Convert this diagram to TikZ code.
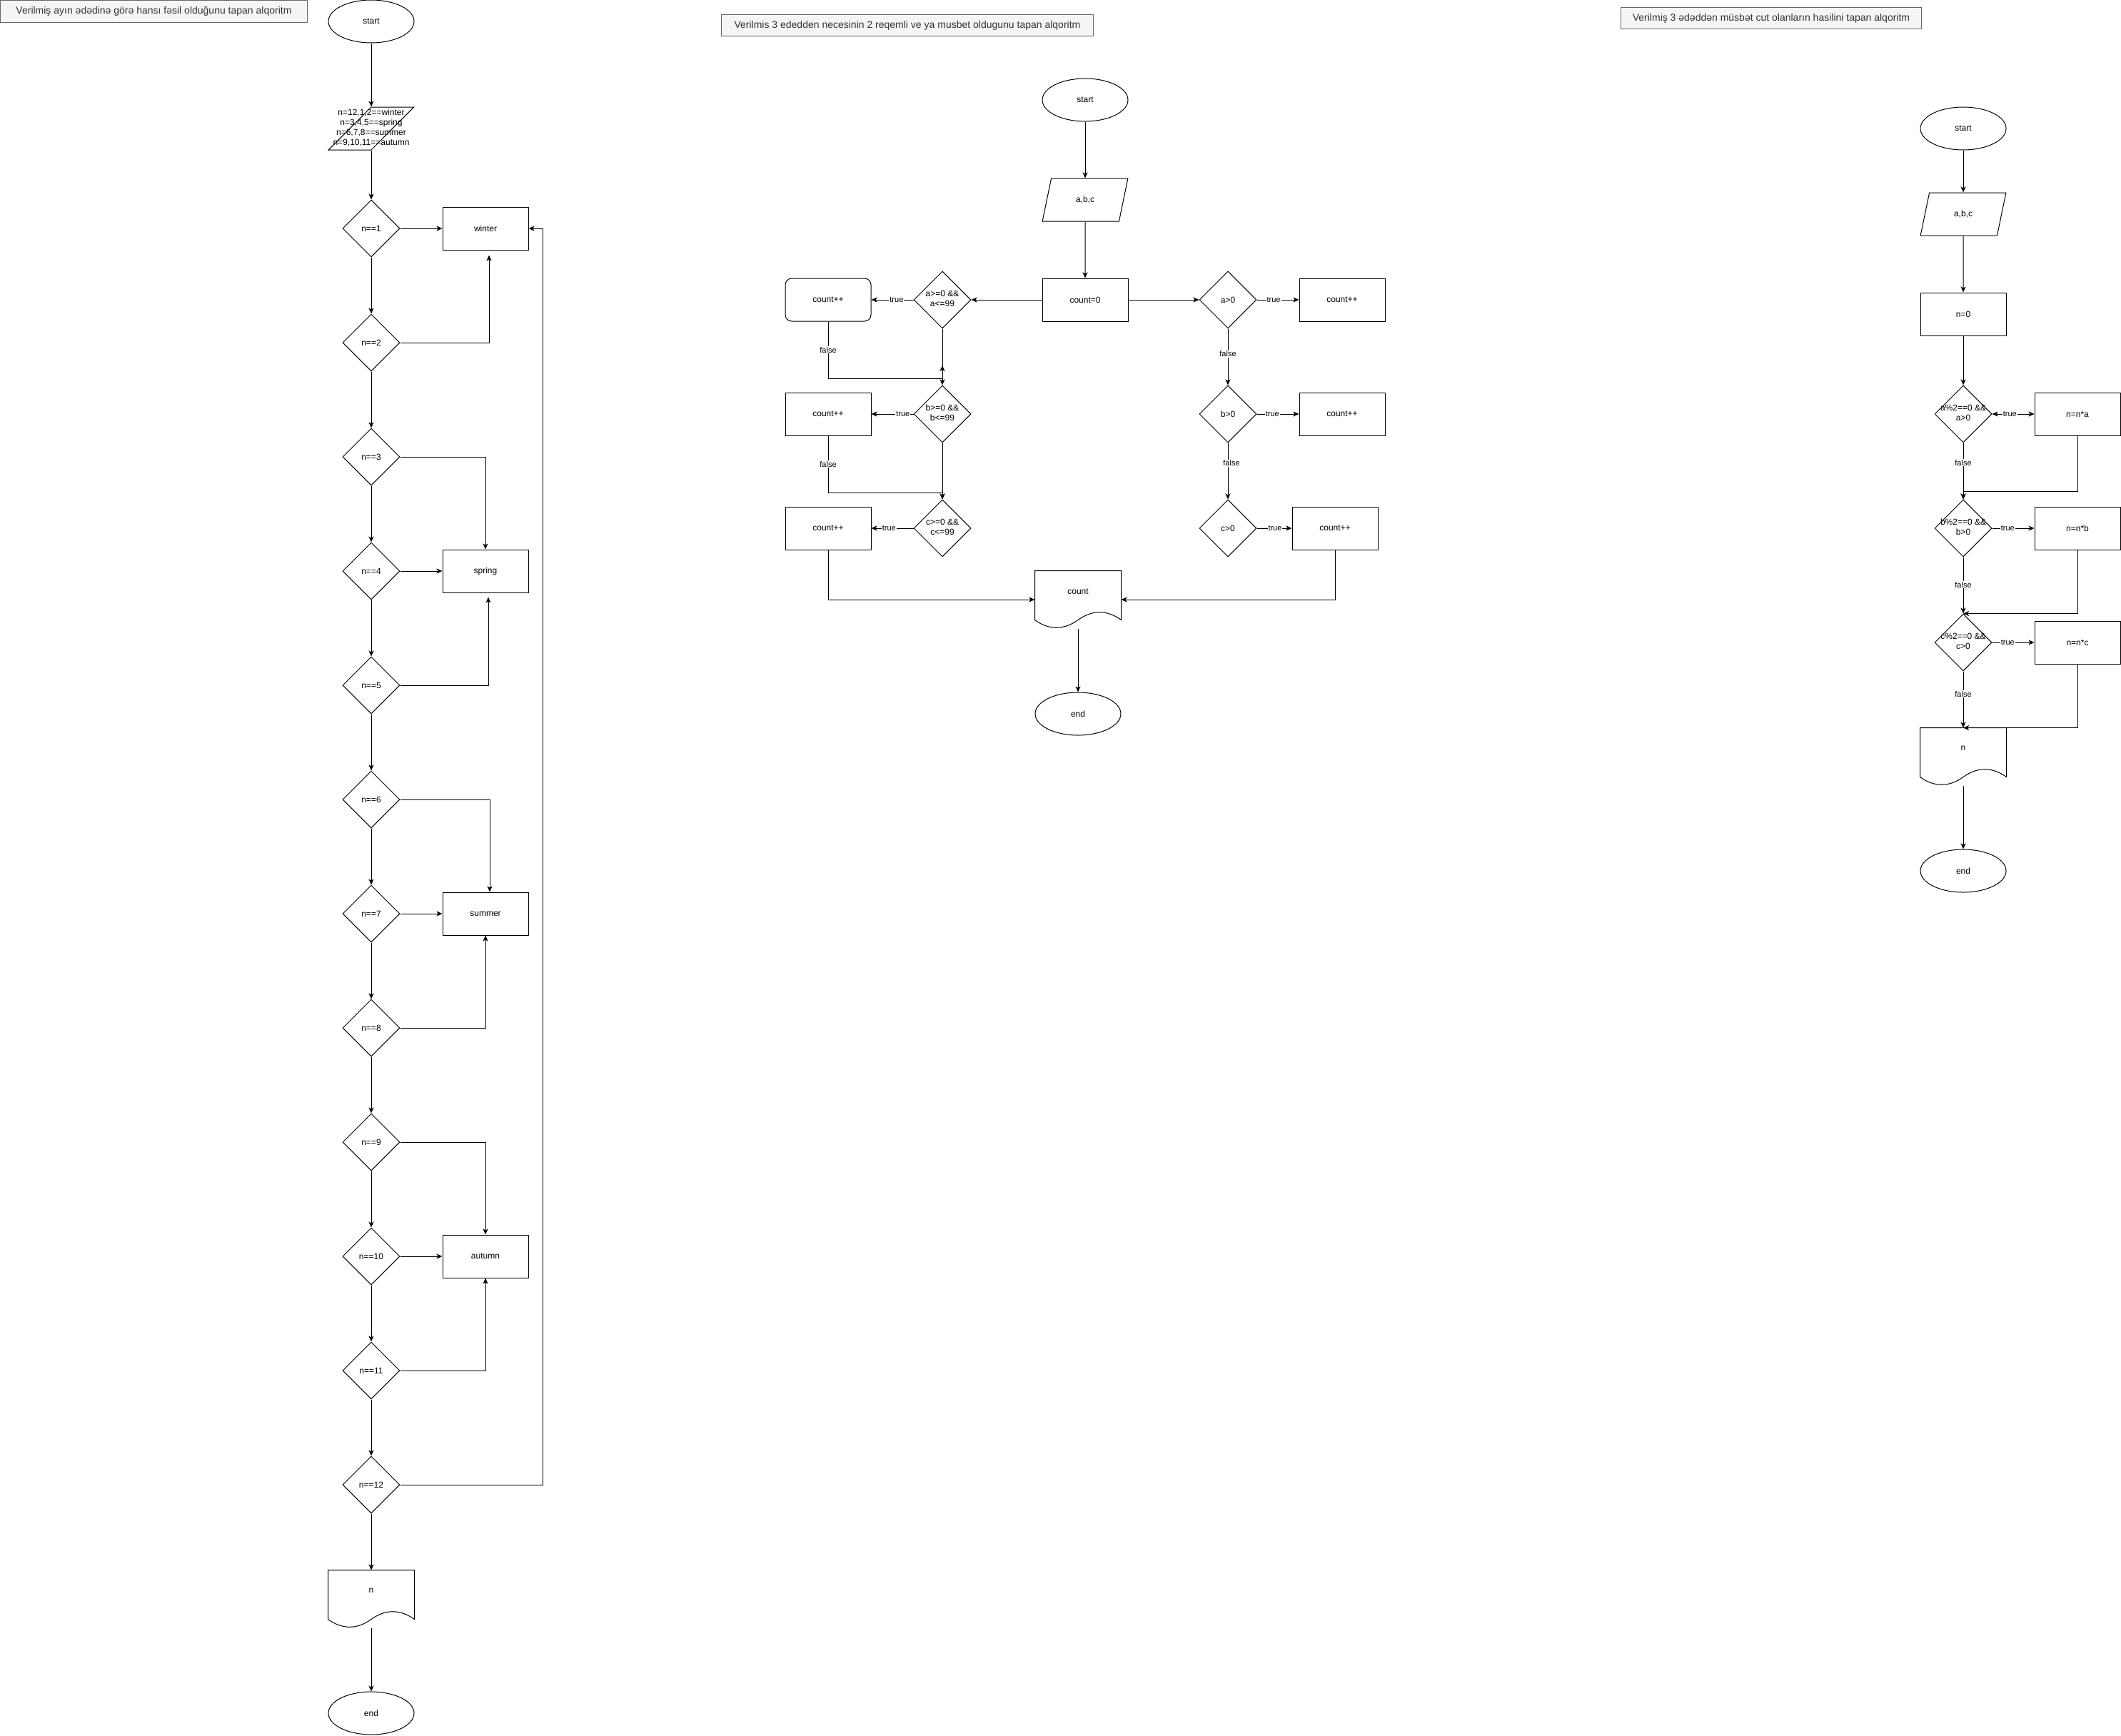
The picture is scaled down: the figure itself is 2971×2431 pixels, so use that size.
\documentclass[tikz,border=0pt]{standalone}
\usepackage{fontspec}
\setmainfont{Liberation Sans}
\usetikzlibrary{arrows.meta,calc,shapes.geometric}
\definecolor{TitleFill}{HTML}{F5F5F5}
\definecolor{TitleLine}{HTML}{666666}
\definecolor{TitleText}{HTML}{333333}
\newcommand{\ztext}[1]{\makebox[0pt]{\begin{tabular}{@{}c@{}}#1\end{tabular}}}

\begin{document}
\begin{tikzpicture}[x=1pt, y=-1pt, line width=1pt,
	font=\fontsize{12}{14}\selectfont,
	terminal/.style={draw, ellipse, minimum width=120, minimum height=60, inner sep=0},
	process/.style={draw, rectangle, minimum width=120, minimum height=60, inner sep=0},
	roundproc/.style={process, rounded corners=9},
	decision/.style={draw, diamond, minimum width=80, minimum height=80, inner sep=0},
	inout/.style={draw, trapezium, trapezium left angle=71.565, trapezium right angle=108.435,
		trapezium stretches=true, minimum width=120, minimum height=60, inner sep=0},
	docbox/.style={minimum width=120, minimum height=80, inner sep=0,
		label={[anchor=center, yshift=-29]north:#1}},
	titlebox/.style={draw=TitleLine, fill=TitleFill, text=TitleText,
		font=\fontsize{14}{16}\selectfont, inner sep=0, anchor=north west},
	arr/.style={-{Stealth[length=8, width=7, inset=2]}},
	lbl/.style={fill=white, inner sep=1, font=\fontsize{11}{13}\selectfont}]
	\useasboundingbox (0,0) rectangle (2971,2431);
	
	% fasil
	\node[titlebox, minimum width=430, minimum height=31] (ltitle) at (0,0) {Verilmiş ayın ədədinə görə hansı fəsil olduğunu tapan alqoritm};
	\node[terminal] (lstart) at (520,30) {start};
	\node[inout] (lin) at (520,180) {\ztext{n=12,1,2==winter\\n=3,4,5==spring\\n=6,7,8==summer\\n=9,10,11==autumn}};
	\foreach \i in {1,...,12}
		\node[decision] (d\i) at (520,160+160*\i) {n==\i};
	\node[process] (win) at (680,320) {winter};
	\node[process] (spr) at (680,800) {spring};
	\node[process] (sum) at (680,1280) {summer};
	\node[process] (aut) at (680,1760) {autumn};
	\node[docbox=n] (ldoc) at (520,2240) {};
	\node[terminal] (lend) at (520,2400) {end};
	
	\draw[arr] (lstart) -- (lin);
	\draw[arr] (lin) -- (d1);
	\foreach \i [evaluate=\i as \j using int(\i+1)] in {1,...,11}
		\draw[arr] (d\i) -- (d\j);
	\draw[arr] (d12) -- (ldoc);
	\draw[arr] (ldoc.south) -- (lend);
	\draw[arr] (d1) -- (win);
	\draw[arr] (d2.east) -| ([xshift=5,yshift=-7]win.south);
	\draw[arr] (d3.east) -| (spr.north);
	\draw[arr] (d4) -- (spr);
	\draw[arr] (d5.east) -| ([xshift=4,yshift=-6]spr.south);
	\draw[arr] (d6.east) -| ([xshift=6]sum.north);
	\draw[arr] (d7) -- (sum);
	\draw[arr] (d8.east) -| (sum.south);
	\draw[arr] (d9.east) -| (aut.north);
	\draw[arr] (d10) -- (aut);
	\draw[arr] (d11.east) -| (aut.south);
	\coordinate (loop) at (760,320);
	\draw[arr] (d12.east) -| (loop) -- (win.east);
	
	% iki reqemli / musbet
	\node[titlebox, minimum width=521, minimum height=30] (mtitle) at (1010,20) {Verilmis 3 ededden necesinin 2 reqemli ve ya musbet oldugunu tapan alqoritm};
	\node[terminal] (mstart) at (1520,140) {start};
	\node[inout] (min) at (1520,280) {a,b,c};
	\node[process] (mzero) at (1520,420) {count=0};
	\node[decision] (mqa) at (1320,420) {\ztext{a>=0 \&\&\\a<=99}};
	\node[decision] (mqb) at (1320,580) {\ztext{b>=0 \&\&\\b<=99}};
	\node[decision] (mqc) at (1320,740) {\ztext{c>=0 \&\&\\c<=99}};
	\node[roundproc] (mca) at (1160,420) {count++};
	\node[process] (mcb) at (1160,580) {count++};
	\node[process] (mcc) at (1160,740) {count++};
	\node[decision] (mpa) at (1720,420) {a>0};
	\node[decision] (mpb) at (1720,580) {b>0};
	\node[decision] (mpc) at (1720,740) {c>0};
	\node[process] (mra) at (1880,420) {count++};
	\node[process] (mrb) at (1880,580) {count++};
	\node[process] (mrc) at (1870,740) {count++};
	\node[docbox=count] (mdoc) at (1510,840) {};
	\node[terminal] (mend) at (1510,1000) {end};
	
	\draw[arr] (mstart) -- (min);
	\draw[arr] (min) -- (mzero);
	\draw[arr] (mzero) -- (mqa);
	\draw[arr] (mzero) -- (mpa);
	\draw[arr] (mqa) -- node[lbl, pos=.4] {true} (mca);
	\draw[arr] (mqb) -- node[lbl, pos=.25] {true} (mcb);
	\draw[arr] (mqc) -- node[lbl, pos=.58] {true} (mcc);
	\draw[arr] (mqa) -- (mqb);
	\draw[arr] (mqb) -- (mqc);
	\coordinate (mja) at (1320,530);
	\coordinate (mtip) at (1320,512);
	\draw[arr] (mca.south) |- node[lbl, pos=.25] {false} (mja) -- (mtip);
	\coordinate (mjb) at (1320,690);
	\draw[arr] (mcb.south) |- node[lbl, pos=.25] {false} (mjb) -- (mqc.north);
	\draw[arr] (mcc.south) |- (mdoc.west);
	\draw[arr] (mpa) -- node[lbl, pos=.4] {true} (mra);
	\draw[arr] (mpb) -- node[lbl, pos=.37] {true} (mrb);
	\draw[arr] (mpc) -- node[lbl, pos=.52] {true} (mrc);
	\draw[arr] (mpa) -- node[lbl, pos=.45] {false} (mpb);
	\draw[arr] (mpb) -- node[lbl, pos=.36, xshift=5] {false} (mpc);
	\draw[arr] (mrc.south) |- (mdoc.east);
	\draw[arr] (mdoc.south) -- (mend);
	
	% cut ededlerin hasili
	\node[titlebox, minimum width=421, minimum height=30] (rtitle) at (2270,10) {Verilmiş 3 ədəddən müsbət cut olanların hasilini tapan alqoritm};
	\node[terminal] (rstart) at (2750,180) {start};
	\node[inout] (rin) at (2750,300) {a,b,c};
	\node[process] (rzero) at (2750,440) {n=0};
	\node[decision] (rqa) at (2750,580) {\ztext{a\%2==0 \&\&\\a>0}};
	\node[decision] (rqb) at (2750,740) {\ztext{b\%2==0 \&\&\\b>0}};
	\node[decision] (rqc) at (2750,900) {\ztext{c\%2==0 \&\&\\c>0}};
	\node[process] (rma) at (2910,580) {n=n*a};
	\node[process] (rmb) at (2910,740) {n=n*b};
	\node[process] (rmc) at (2910,900) {n=n*c};
	\node[docbox=n] (rdoc) at (2750,1060) {};
	\node[terminal] (rend) at (2750,1220) {end};
	
	\draw[arr] (rstart) -- (rin);
	\draw[arr] (rin) -- (rzero);
	\draw[arr] (rzero) -- (rqa);
	\draw[{Stealth[length=8, width=7, inset=2]}-{Stealth[length=8, width=7, inset=2]}] (rqa) -- node[lbl, pos=.42] {true} (rma);
	\draw[arr] (rqa) -- node[lbl, pos=.35] {false} (rqb);
	\coordinate (rja) at (2750,688);
	\draw[arr] (rma.south) |- (rja) -- (rqb.north);
	\draw[arr] (rqb) -- node[lbl, pos=.37] {true} (rmb);
	\draw[arr] (rqb) -- node[lbl, pos=.49] {false} (rqc);
	\draw[arr] (rmb.south) |- (rqc.north);
	\draw[arr] (rqc) -- node[lbl, pos=.37] {true} (rmc);
	\draw[arr] (rqc) -- node[lbl, pos=.4] {false} (rdoc);
	\draw[arr] (rmc.south) |- (rdoc.north);
	\draw[arr] (rdoc.south) -- (rend);
	
	% dalgali alt kenar
	\foreach \d in {ldoc,mdoc,rdoc}
		\draw (\d.north west) -- (\d.north east) -- ($(\d.south east)+(0,-12)$)
			.. controls +(-20,-14.4) and +(20,-14.4) .. ($(\d.south)+(0,-12)$)
			.. controls +(-20,14.4) and +(20,14.4) .. ($(\d.south west)+(0,-12)$) -- cycle;
\end{tikzpicture}
\end{document}
